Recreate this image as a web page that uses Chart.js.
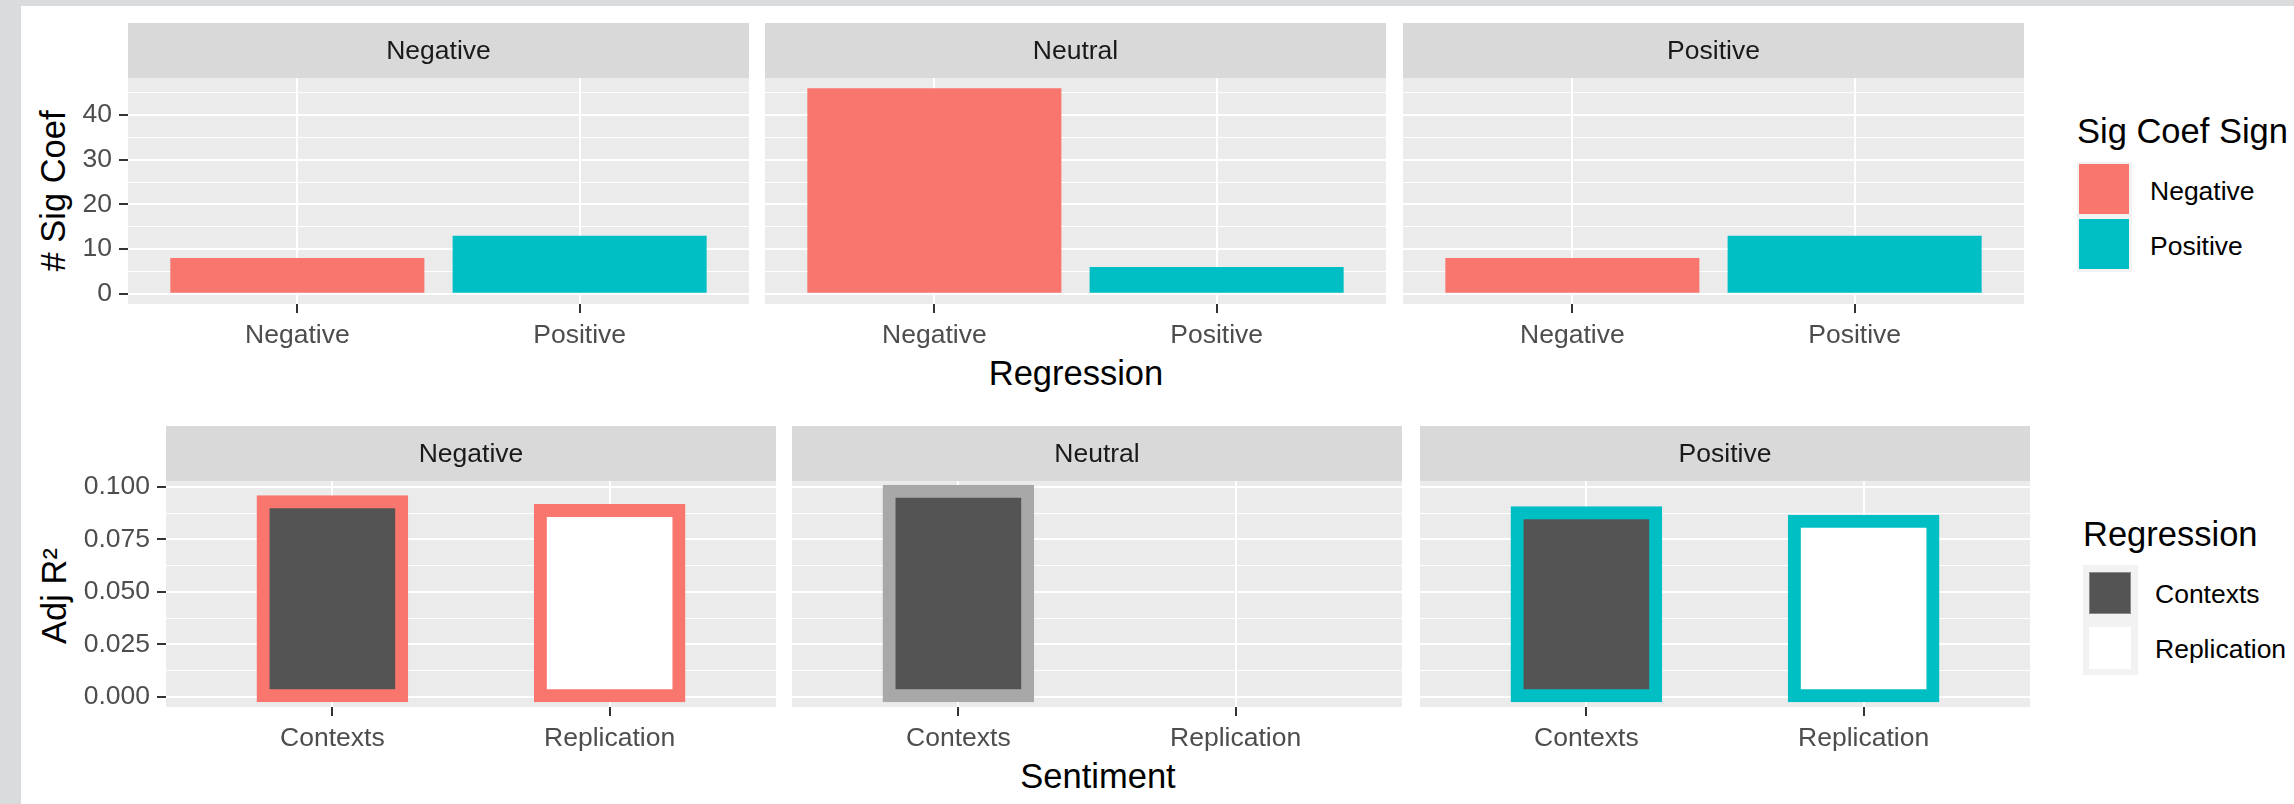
<!DOCTYPE html>
<html>
<head>
<meta charset="utf-8">
<title>Sig Coef / Adj R² by sentiment</title>
<script src="https://cdn.jsdelivr.net/npm/chart.js@4.4.1/dist/chart.umd.min.js"></script>
<style>
    html, body { margin: 0; padding: 0; overflow: hidden; }
    body { position: relative; width: 2294px; height: 804px; background: #dadbdc;
           font-family: 'Liberation Sans', Arial, sans-serif; }
    #sheet { position: absolute; left: 21px; top: 6px; width: 2400px; height: 900px; background: #ffffff; }
    canvas { position: absolute; }
    .axis-title { position: absolute; font-size: 34.5px; line-height: 1; color: #000; white-space: nowrap;
                  transform: translate(-50%, -50%); }
    .axis-title.rot { transform: translate(-50%, -50%) rotate(-90deg); }
    .legend-title { position: absolute; font-size: 34.5px; line-height: 1; color: #000; white-space: nowrap;
                    transform: translateY(-50%); }
    .legend-label { position: absolute; font-size: 26.5px; line-height: 1; color: #000; white-space: nowrap;
                    transform: translateY(-50%); }
    .legend-bg { position: absolute; background: #f2f2f2; }
    .legend-key { position: absolute; box-sizing: border-box; }
</style>
</head>
<body>
<div id="sheet"></div>

<div class="axis-title rot" style="left:53px;top:191px"># Sig Coef</div>
<div class="axis-title" style="left:1076px;top:373px">Regression</div>
<div class="axis-title rot" style="left:54px;top:596px">Adj R²</div>
<div class="axis-title" style="left:1098px;top:776px">Sentiment</div>

<div class="legend-title" style="left:2077px;top:131px">Sig Coef Sign</div>
<div class="legend-bg" style="left:2077px;top:162px;width:55px;height:110px"></div>
<div class="legend-key" style="left:2079px;top:164px;width:50px;height:50px;background:#F8766D"></div>
<div class="legend-key" style="left:2079px;top:219px;width:50px;height:50px;background:#00BFC4"></div>
<div class="legend-label" style="left:2150px;top:191px">Negative</div>
<div class="legend-label" style="left:2150px;top:246px">Positive</div>

<div class="legend-title" style="left:2083px;top:534px">Regression</div>
<div class="legend-bg" style="left:2083px;top:565px;width:55px;height:110px"></div>
<div class="legend-key" style="left:2089px;top:572px;width:42px;height:42px;background:#545454;border:1px solid #8a8a8a"></div>
<div class="legend-key" style="left:2089px;top:627px;width:42px;height:42px;background:#ffffff"></div>
<div class="legend-label" style="left:2155px;top:594px">Contexts</div>
<div class="legend-label" style="left:2155px;top:649px">Replication</div>

<script>
// facets (sentiment of the text)
const facets = ['Negative', 'Neutral', 'Positive'];

// top row: number of significant coefficients per regression
const regressionLabels = ['Negative', 'Positive'];
const sigCoefNegative = [8, 46, 8];
const sigCoefPositive = [13, 6, 13];
const sigCoefTicks = [0, 10, 20, 30, 40];

// bottom row: adjusted R squared per model
const sentimentLabels = ['Contexts', 'Replication'];
const adjR2Contexts = [0.093, 0.098, 0.0877];
const adjR2Replication = [0.0888, null, 0.0837];
const adjR2Ticks = [0, 0.025, 0.05, 0.075, 0.1];

const RED = '#F8766D';
const TEAL = '#00BFC4';
const NA_GREY = '#A8A8A8';
const signColors = [RED, TEAL];
const facetOutline = [RED, NA_GREY, TEAL];
const regressionFill = ['#545454', '#FFFFFF'];

const FONT = "'Liberation Sans', Arial, sans-serif";
Chart.defaults.font.family = FONT;

const topRow = { stripTop: 23, stripH: 55, panelH: 226, axisH: 60, lefts: [128, 765, 1403], width: 621, yAxisW: 60 };
const bottomRow = { stripTop: 426, stripH: 55, panelH: 226, axisH: 60, lefts: [166, 792, 1420], width: 610, yAxisW: 100 };

// grey strip above the panel + grey panel background
const facetBackground = {
    id: 'facetBackground',
    beforeDraw(chart) {
        const { ctx, chartArea: a } = chart;
        ctx.save();
        ctx.fillStyle = '#D9D9D9';
        ctx.fillRect(a.left, 0, a.right - a.left, a.top);
        ctx.fillStyle = '#EBEBEB';
        ctx.fillRect(a.left, a.top, a.right - a.left, a.bottom - a.top);
        ctx.restore();
    }
};

function addCanvas(left, top, width, height) {
    const c = document.createElement('canvas');
    c.width = width;
    c.height = height;
    c.style.left = left + 'px';
    c.style.top = top + 'px';
    c.style.width = width + 'px';
    c.style.height = height + 'px';
    document.body.appendChild(c);
    return c;
}

function yScale(major, maxValue, showLabels, axisW, fmt) {
    const lo = -maxValue * 0.05;
    const hi = maxValue * 1.05;
    const step = major[1] - major[0];
    const minor = major.map(v => v + step / 2).filter(v => v < hi);
    const all = major.concat(minor).sort((a, b) => a - b);
    const isMajor = v => major.includes(v);
    return {
        type: 'linear',
        min: lo,
        max: hi,
        afterBuildTicks: s => { s.ticks = all.map(v => ({ value: v })); },
        afterFit: s => { s.width = axisW; },
        border: { display: false },
        grid: {
            color: '#FFFFFF',
            lineWidth: c => isMajor(c.tick.value) ? 2 : 1,
            drawTicks: showLabels,
            tickLength: 9,
            tickWidth: 2,
            tickColor: c => isMajor(c.tick.value) ? '#333333' : 'rgba(0,0,0,0)'
        },
        ticks: {
            display: showLabels,
            autoSkip: false,
            padding: 7,
            color: '#4D4D4D',
            font: { size: 26.5 },
            callback: v => isMajor(v) ? fmt(v) : ''
        }
    };
}

function xScale(labels, axisH) {
    return {
        type: 'linear',
        min: -0.6,
        max: labels.length - 0.4,
        offset: false,
        afterBuildTicks: s => { s.ticks = labels.map((_, i) => ({ value: i })); },
        afterFit: s => { s.height = axisH; },
        border: { display: false },
        grid: { offset: false, color: '#FFFFFF', lineWidth: 2, tickLength: 9, tickWidth: 2, tickColor: '#333333' },
        ticks: { autoSkip: false, maxRotation: 0, padding: 7, color: '#4D4D4D', font: { size: 26.5 }, callback: v => labels[v] }
    };
}

function facetChart(row, i, dataset, labels, yTicks, yMax, fmt) {
    const showY = i === 0;
    const yW = showY ? row.yAxisW : 0;
    const canvas = addCanvas(row.lefts[i] - yW, row.stripTop, row.width + yW, row.stripH + row.panelH + row.axisH);
    const titlePad = row.stripH - 26.5 * 1.2;
    return new Chart(canvas, {
        type: 'bar',
        data: { datasets: [dataset] },
        options: {
            responsive: false,
            animation: false,
            layout: { padding: 0 },
            plugins: {
                legend: { display: false },
                tooltip: { enabled: false },
                title: {
                    display: true,
                    text: facets[i],
                    fullSize: false,
                    color: '#1A1A1A',
                    font: { size: 26.5, weight: 'normal', lineHeight: 1.2 },
                    padding: { top: titlePad * 0.57, bottom: titlePad * 0.43 }
                }
            },
            scales: {
                x: xScale(labels, row.axisH),
                y: yScale(yTicks, yMax, showY, yW, fmt)
            }
        },
        plugins: [facetBackground]
    });
}

const sigMax = Math.max(...sigCoefNegative, ...sigCoefPositive);
const r2Max = Math.max(...adjR2Contexts.filter(v => v !== null), ...adjR2Replication.filter(v => v !== null));

facets.forEach((name, i) => {
    facetChart(topRow, i, {
        data: [
            { x: 0, y: sigCoefNegative[i] },
            { x: 1, y: sigCoefPositive[i] }
        ],
        backgroundColor: c => signColors[c.raw.x],
        borderWidth: 0,
        inflateAmount: 0,
        barPercentage: 0.9,
        categoryPercentage: 1,
        clip: false
    }, regressionLabels, sigCoefTicks, sigMax, v => String(v));

    facetChart(bottomRow, i, {
        data: [
            { x: 0, y: adjR2Contexts[i] },
            { x: 1, y: adjR2Replication[i] }
        ].filter(p => p.y !== null),
        backgroundColor: c => regressionFill[c.raw.x],
        borderColor: facetOutline[i],
        borderWidth: 13,
        borderSkipped: false,
        inflateAmount: 6.5,
        barPercentage: 0.5,
        categoryPercentage: 1,
        clip: false
    }, sentimentLabels, adjR2Ticks, r2Max, v => v.toFixed(3));
});
</script>
</body>
</html>
